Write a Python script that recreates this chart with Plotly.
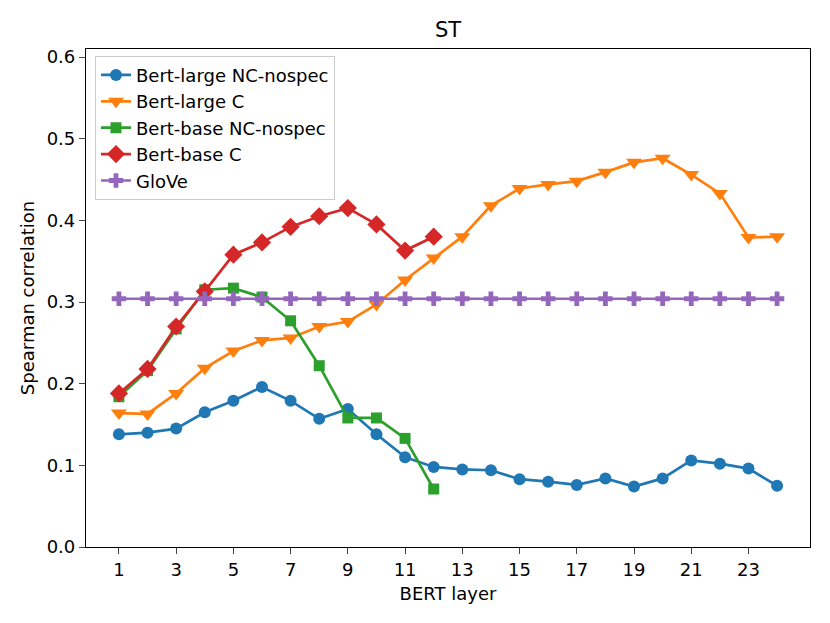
import plotly.graph_objects as go

layers_large = list(range(1, 25))
layers_base = list(range(1, 13))

bert_large_nc = [0.138, 0.140, 0.145, 0.165, 0.179, 0.196, 0.179, 0.157, 0.169, 0.138, 0.110, 0.098,
                 0.095, 0.094, 0.083, 0.080, 0.076, 0.084, 0.074, 0.084, 0.106, 0.102, 0.096, 0.075]
bert_large_c = [0.164, 0.163, 0.188, 0.219, 0.240, 0.253, 0.256, 0.270, 0.276, 0.297, 0.327, 0.354,
                0.380, 0.418, 0.439, 0.444, 0.448, 0.459, 0.471, 0.476, 0.456, 0.433, 0.379, 0.380]
bert_base_nc = [0.184, 0.216, 0.267, 0.315, 0.317, 0.306, 0.277, 0.222, 0.158, 0.158, 0.133, 0.071]
bert_base_c = [0.188, 0.218, 0.270, 0.313, 0.358, 0.373, 0.392, 0.405, 0.415, 0.395, 0.363, 0.380]
glove = [0.304] * 24

x_tickvals = list(range(1, 24, 2))
y_tickvals = [0.0, 0.1, 0.2, 0.3, 0.4, 0.5, 0.6]

series = [
    ("Bert-large NC-nospec", layers_large, bert_large_nc, "#1f77b4", "circle", 12),
    ("Bert-large C", layers_large, bert_large_c, "#ff7f0e", "triangle-down", 14),
    ("Bert-base NC-nospec", layers_base, bert_base_nc, "#2ca02c", "square", 11),
    ("Bert-base C", layers_base, bert_base_c, "#d62728", "diamond", 14),
    ("GloVe", layers_large, glove, "#9467bd", "cross", 12),
]

fig = go.Figure()
for i, (name, xs, ys, color, sym, size) in enumerate(series):
    fig.add_trace(go.Scatter(
        x=xs, y=ys, name=name, mode="lines+markers",
        line=dict(color=color, width=2.7),
        marker=dict(symbol=sym, size=size, color=color, line=dict(width=0)),
        legendgroup=str(i),
    ))

font_family = "DejaVu Sans"
fig.update_layout(
    width=830, height=623,
    margin=dict(l=78, r=28, t=41, b=84),
    paper_bgcolor="white", plot_bgcolor="white",
    font=dict(family=font_family, size=18, color="black"),
    title=dict(text="ST", x=0.5, xanchor="center", xref="paper", y=0.9647, yanchor="middle",
               font=dict(size=21, family=font_family, color="black")),
    showlegend=True,
    legend=dict(x=0.0124, y=0.9865, xanchor="left", yanchor="top",
                bgcolor="rgba(255,255,255,0.8)", bordercolor="#cccccc", borderwidth=1,
                font=dict(size=18, family=font_family), traceorder="grouped", tracegroupgap=0),
)
fig.update_xaxes(
    range=[-0.15, 25.15], tickvals=x_tickvals, ticks="outside", ticklen=6, tickwidth=1.2,
    showline=True, linecolor="black", linewidth=1.2, mirror=True, showgrid=False, zeroline=False,
    title=dict(text="BERT layer", standoff=8, font=dict(size=18)),
)
fig.update_yaxes(
    range=[0, 0.6098], tickvals=y_tickvals, tickformat=".1f", ticks="outside", ticklen=6, tickwidth=1.2,
    showline=True, linecolor="black", linewidth=1.2, mirror=True, showgrid=False, zeroline=False,
    title=dict(text="Spearman correlation", standoff=7, font=dict(size=18)),
)

fig.write_html("out.html")
